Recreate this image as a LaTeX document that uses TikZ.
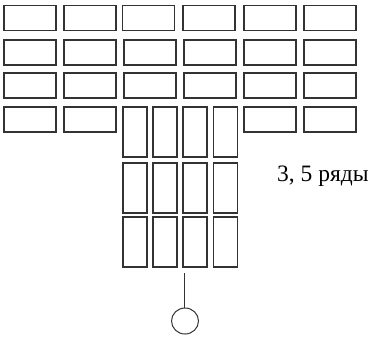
\documentclass[tikz,border=0pt]{standalone}
\usepackage{fontspec}
\setmainfont{Liberation Serif}
\usetikzlibrary{shapes.geometric}
\begin{document}
\begin{tikzpicture}[x=1pt,y=-1pt,
  brick/.style={draw=black!80,line width=1.1pt,rectangle,inner sep=0pt,minimum width=52pt,minimum height=25pt},
  vbrick/.style={draw=black!80,line width=1.1pt,rectangle,inner sep=0pt,minimum width=24pt,minimum height=50pt},
  lbl/.style={font=\fontsize{23.5}{26}\selectfont,inner sep=0pt,anchor=base west}]
\useasboundingbox (0,0) rectangle (371,337);
% row 1
\foreach \i/\x in {1/30,2/90,3/148.5,4/209,5/270,6/330}
  \node[brick] (r1c\i) at (\x,18) {};
% rows 2 and 3
\foreach \r/\y in {2/52.5,3/85.5}
  \foreach \i/\x in {1/30,2/90,3/150,4/210,5/270,6/330}
    \node[brick] (r\r c\i) at (\x,\y) {};
% row 4 horizontal
\foreach \i/\x in {1/30,2/90,5/270,6/330}
  \node[brick] (r4c\i) at (\x,119.5) {};
% vertical bricks
\foreach \r/\y in {1/132,2/188,3/242}
  \foreach \i/\x in {1/135,2/165,3/195,4/225.5}
    \node[vbrick] (v\r c\i) at (\x,\y) {};
% circle and stem
\node[draw=black!80,line width=1pt,ellipse,minimum width=27pt,minimum height=26pt,inner sep=0pt] (ball) at (185,321) {};
\coordinate (top) at (184,273);
\draw[black!80,line width=1pt] (top) -- (top |- ball.north);
% label
\node[lbl] (txt) at (277,181.5) {3, 5 ряды};
\end{tikzpicture}
\end{document}
